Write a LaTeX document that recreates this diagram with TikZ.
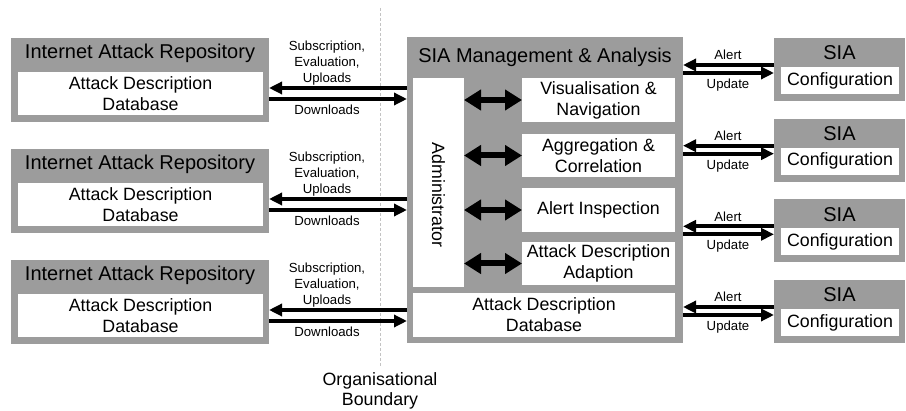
\documentclass[tikz,border=0pt]{standalone}
\usepackage{fontspec}
\setmainfont{Liberation Sans}
\usetikzlibrary{arrows.meta}
\definecolor{boxgray}{RGB}{156,156,156}
\definecolor{linegray}{RGB}{195,195,195}
\tikzset{
  graybox/.style={fill=boxgray, draw=none, inner sep=0pt, outer sep=0pt, anchor=north west},
  whitebox/.style={fill=white, draw=none, inner sep=0pt, outer sep=0pt, anchor=north west, align=center, font=\fontsize{17.8}{21}\selectfont},
  headtxt/.style={font=\fontsize{20}{24}\selectfont, inner sep=0pt},
  lbl/.style={font=\fontsize{13.2}{16.3}\selectfont, align=center, inner sep=0pt},
  flow/.style={line width=4pt, -{Triangle[length=13pt,width=12pt]}},
  dbl/.style={line width=6pt, {Triangle[length=17pt,width=20pt]}-{Triangle[length=17pt,width=20pt]}},
  boundary/.style={linegray, line width=1pt, dash pattern=on 3pt off 2pt},
}
\begin{document}
\begin{tikzpicture}[x=1pt,y=-1pt]
\useasboundingbox (0,0) rectangle (906,411);
% boundary
\coordinate (btop) at (380,8);
\coordinate (bbot) at (380,367);
\draw[boundary] (btop) -- (bbot);
\node[font=\fontsize{17.8}{19.5}\selectfont, align=center, inner sep=0pt] (blabel) at (380,391) {Organisational\\Boundary};
% SIA management box
\node[graybox, minimum width=276pt, minimum height=306pt] (mgmt) at (407,37) {};
\node[headtxt] (mgmthead) at (545,57) {SIA Management \& Analysis};
\node[whitebox, minimum width=51pt, minimum height=209pt] (admin) at (413,78) {};
\node[font=\fontsize{17.8}{21}\selectfont, rotate=-90, inner sep=0pt] (admintxt) at (438.5,195) {Administrator};
\node[whitebox, minimum width=153pt, minimum height=44pt] (vis) at (522,78) {Visualisation \&\\Navigation};
\node[whitebox, minimum width=153pt, minimum height=43pt] (agg) at (522,134) {Aggregation \&\\Correlation};
\node[whitebox, minimum width=153pt, minimum height=44pt] (ins) at (522,188) {Alert Inspection};
\node[whitebox, minimum width=153pt, minimum height=43pt] (ada) at (522,242) {Attack Description\\Adaption};
\node[whitebox, minimum width=262pt, minimum height=44pt] (mdb) at (413,293) {Attack Description\\Database};
\foreach \b in {vis,agg,ins,ada} {
  \draw[dbl] (admin.east |- \b.west) -- (\b.west);
}
% repositories
\foreach \i/\t in {1/38,2/149,3/260} {
  \node[graybox, minimum width=258pt, minimum height=84pt] (r\i) at (11,\t) {};
  \node[headtxt] (rh\i) at (140,\t+15) {Internet Attack Repository};
  \node[whitebox, minimum width=245pt, minimum height=43pt] (rdb\i) at (18,\t+34) {Attack Description\\Database};
  \draw[flow] (mgmt.west |- 0,\t+50) -- (r\i.east |- 0,\t+50);
  \draw[flow] (r\i.east |- 0,\t+61) -- (mgmt.west |- 0,\t+61);
  \node[lbl] (up\i) at (327,\t+25) {Subscription,\\Evaluation,\\Uploads};
  \node[lbl] (down\i) at (327,\t+72) {Downloads};
}
% SIA sensors
\foreach \i/\t in {1/38,2/118.7,3/199.3,4/280} {
  \node[graybox, minimum width=131pt, minimum height=63pt] (s\i) at (774,\t) {};
  \node[headtxt] (sh\i) at (839.5,\t+15) {SIA};
  \node[whitebox, minimum width=118pt, minimum height=27pt] (sc\i) at (781,\t+29) {Configuration};
  \draw[flow] (s\i.west |- 0,\t+27) -- (mgmt.east |- 0,\t+27);
  \draw[flow] (mgmt.east |- 0,\t+35) -- (s\i.west |- 0,\t+35);
  \node[lbl] (al\i) at (728,\t+17) {Alert};
  \node[lbl] (upd\i) at (728,\t+47) {Update};
}
\end{tikzpicture}
\end{document}
